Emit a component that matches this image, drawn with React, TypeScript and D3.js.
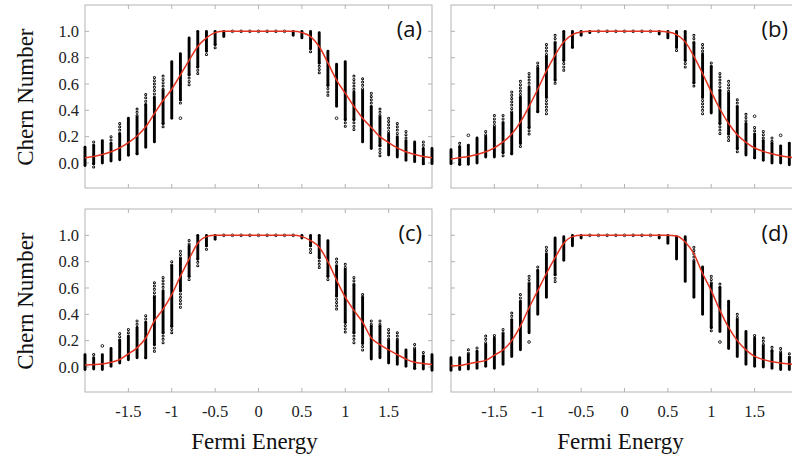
import React from 'react';
import * as d3 from 'd3';

// ---------- data ----------
const ENERGIES = [
  -2.0, -1.9, -1.8, -1.7, -1.6, -1.5, -1.4, -1.3, -1.2, -1.1, -1.0, -0.9, -0.8, -0.7,
  -0.6, -0.5, -0.4, -0.3, -0.2, -0.1, 0.0, 0.1, 0.2, 0.3, 0.4, 0.5, 0.6, 0.7, 0.8,
  0.9, 1.0, 1.1, 1.2, 1.3, 1.4, 1.5, 1.6, 1.7, 1.8, 1.9, 2.0,
];
const X_TICKS = [-1.5, -1, -0.5, 0, 0.5, 1, 1.5];
const X_TICK_LABELS = ['-1.5', '-1', '-0.5', '0', '0.5', '1', '1.5'];
const Y_TICKS = [0, 0.2, 0.4, 0.6, 0.8, 1.0];
const Y_TICK_LABELS = ['0.0', '0.2', '0.4', '0.6', '0.8', '1.0'];
const PANEL_LABELS = ['(a)', '(b)', '(c)', '(d)'];
const X_TITLE = 'Fermi Energy';
const Y_TITLE = 'Chern Number';

// averaged (red) curves
const FIT_A = [0.04, 0.05, 0.065, 0.085, 0.115, 0.155, 0.205, 0.275, 0.375, 0.475, 0.56, 0.67, 0.78, 0.885, 0.95, 0.99,
  1, 1, 1, 1, 1, 1, 1, 1, 1,
  0.99, 0.96, 0.885, 0.76, 0.63, 0.53, 0.43, 0.34, 0.27, 0.2, 0.155, 0.115, 0.085, 0.065, 0.05, 0.04];
const FIT_B = [0.03, 0.04, 0.05, 0.065, 0.085, 0.115, 0.16, 0.22, 0.31, 0.43, 0.56, 0.7, 0.82, 0.92, 0.975, 0.995,
  1, 1, 1, 1, 1, 1, 1, 1, 1,
  0.995, 0.975, 0.92, 0.81, 0.68, 0.54, 0.41, 0.3, 0.215, 0.157, 0.114, 0.088, 0.07, 0.055, 0.045, 0.035];
const FIT_C = [0.015, 0.018, 0.023, 0.036, 0.057, 0.1, 0.145, 0.22, 0.35, 0.44, 0.55, 0.69, 0.82, 0.94, 0.99, 1.0,
  1, 1, 1, 1, 1, 1, 1, 1, 1,
  0.99, 0.96, 0.91, 0.8, 0.66, 0.53, 0.43, 0.34, 0.22, 0.17, 0.13, 0.094, 0.06, 0.036, 0.026, 0.018];
const FIT_D = [0.01, 0.012, 0.025, 0.036, 0.05, 0.09, 0.13, 0.2, 0.31, 0.45, 0.58, 0.71, 0.83, 0.94, 0.99, 1.0,
  1, 1, 1, 1, 1, 1, 1, 1, 1,
  1.0, 0.995, 0.95, 0.86, 0.71, 0.58, 0.43, 0.3, 0.2, 0.13, 0.08, 0.056, 0.04, 0.03, 0.023, 0.018];

// samples per energy: [min, dense low, dense high, max]
const COLS_A = [
  [-0.02, -0.02, 0.12, 0.12], [-0.04, -0.005, 0.135, 0.16], [0, 0, 0.17, 0.17], [0.015, 0.015, 0.15, 0.2],
  [0.025, 0.025, 0.22, 0.3], [0.045, 0.06, 0.34, 0.34], [0.045, 0.07, 0.35, 0.41], [0.12, 0.12, 0.44, 0.52],
  [0.16, 0.16, 0.5, 0.65], [0.25, 0.3, 0.55, 0.66], [0.34, 0.34, 0.77, 0.77], [0.43, 0.48, 0.83, 0.83],
  [0.58, 0.67, 0.95, 0.95], [0.66, 0.73, 1, 1], [0.81, 0.85, 1, 1], [0.87, 0.9, 1, 1], [0.95, 0.96, 1, 1],
  [1, 1, 1, 1], [1, 1, 1, 1], [1, 1, 1, 1], [1, 1, 1, 1], [1, 1, 1, 1], [1, 1, 1, 1], [1, 1, 1, 1],
  [0.97, 0.97, 1, 1],
  [0.95, 0.95, 1, 1], [0.83, 0.87, 1, 1], [0.67, 0.76, 0.99, 0.99], [0.5, 0.59, 0.85, 0.85],
  [0.43, 0.43, 0.75, 0.75], [0.27, 0.33, 0.77, 0.77], [0.25, 0.33, 0.54, 0.66], [0.16, 0.16, 0.55, 0.64],
  [0.11, 0.11, 0.43, 0.53], [0.05, 0.13, 0.35, 0.41], [0.06, 0.06, 0.22, 0.34], [0.045, 0.045, 0.2, 0.3],
  [0.02, 0.02, 0.17, 0.24], [0.01, 0.01, 0.16, 0.16], [-0.03, -0.005, 0.11, 0.16], [-0.005, -0.005, 0.11, 0.11],
];
const COLS_B = [
  [-0.005, -0.005, 0.1, 0.1], [-0.03, -0.01, 0.12, 0.15], [-0.01, -0.01, 0.135, 0.135], [-0.01, 0, 0.19, 0.19],
  [0.045, 0.045, 0.2, 0.24], [0.045, 0.045, 0.27, 0.36], [0.05, 0.08, 0.3, 0.36], [0.05, 0.07, 0.38, 0.54],
  [0.12, 0.15, 0.5, 0.62], [0.21, 0.27, 0.58, 0.68], [0.37, 0.39, 0.72, 0.76], [0.37, 0.5, 0.81, 0.9],
  [0.6, 0.63, 0.91, 0.97], [0.7, 0.78, 1, 1], [0.86, 0.88, 1, 1], [0.97, 0.97, 1, 1], [0.99, 0.99, 1, 1],
  [1, 1, 1, 1], [1, 1, 1, 1], [1, 1, 1, 1], [1, 1, 1, 1], [1, 1, 1, 1], [1, 1, 1, 1], [1, 1, 1, 1],
  [0.98, 0.98, 1, 1],
  [0.95, 0.95, 1, 1], [0.85, 0.88, 1, 1], [0.71, 0.78, 1, 1], [0.58, 0.61, 0.91, 0.97],
  [0.37, 0.5, 0.83, 0.9], [0.37, 0.38, 0.73, 0.76], [0.21, 0.3, 0.55, 0.68], [0.15, 0.22, 0.53, 0.62],
  [0.06, 0.11, 0.43, 0.48], [0.06, 0.06, 0.3, 0.37], [0.025, 0.04, 0.22, 0.27], [0.013, 0.02, 0.17, 0.24],
  [0, 0, 0.15, 0.19], [0, 0, 0.13, 0.14], [-0.013, -0.013, 0.15, 0.15], [0, 0, 0.12, 0.12],
];
const COLS_C = [
  [-0.02, -0.02, 0.094, 0.094], [-0.015, -0.015, 0.07, 0.094], [-0.025, -0.02, 0.094, 0.094], [0.005, 0.005, 0.14, 0.14],
  [0.03, 0.03, 0.2, 0.255], [0.055, 0.055, 0.235, 0.285], [0.07, 0.07, 0.3, 0.35], [0.055, 0.07, 0.34, 0.39],
  [0.11, 0.17, 0.53, 0.64], [0.16, 0.26, 0.58, 0.68], [0.25, 0.31, 0.77, 0.8], [0.43, 0.58, 0.82, 0.88],
  [0.64, 0.69, 0.92, 0.96], [0.76, 0.82, 1, 1], [0.88, 0.92, 1, 1], [0.97, 0.97, 1, 1],
  [1, 1, 1, 1], [1, 1, 1, 1], [1, 1, 1, 1], [1, 1, 1, 1], [1, 1, 1, 1], [1, 1, 1, 1], [1, 1, 1, 1], [1, 1, 1, 1], [1, 1, 1, 1],
  [0.98, 0.98, 1, 1], [0.86, 0.92, 1, 1], [0.74, 0.83, 1, 1], [0.64, 0.69, 0.96, 0.96],
  [0.43, 0.54, 0.77, 0.82], [0.25, 0.34, 0.74, 0.78], [0.16, 0.26, 0.62, 0.68], [0.11, 0.18, 0.53, 0.55],
  [0.06, 0.06, 0.31, 0.35], [0.07, 0.07, 0.31, 0.35], [0.03, 0.03, 0.2, 0.285], [0.02, 0.02, 0.2, 0.26],
  [0.005, 0.005, 0.13, 0.13], [-0.025, -0.01, 0.13, 0.17], [-0.015, -0.015, 0.08, 0.11], [-0.025, -0.025, 0.094, 0.094],
];
const COLS_D = [
  [-0.025, -0.025, 0.07, 0.07], [-0.02, -0.02, 0.07, 0.07], [-0.015, -0.015, 0.094, 0.13], [-0.01, -0.01, 0.12, 0.145],
  [0.005, 0.005, 0.17, 0.235], [-0.01, -0.01, 0.22, 0.24], [0.02, 0.02, 0.25, 0.285], [0.08, 0.08, 0.36, 0.41],
  [0.13, 0.13, 0.5, 0.55], [0.26, 0.26, 0.63, 0.69], [0.4, 0.4, 0.73, 0.76], [0.53, 0.53, 0.86, 0.91],
  [0.64, 0.7, 0.98, 0.98], [0.81, 0.81, 0.99, 0.99], [0.92, 0.92, 1, 1], [0.98, 0.98, 1, 1],
  [1, 1, 1, 1], [1, 1, 1, 1], [1, 1, 1, 1], [1, 1, 1, 1], [1, 1, 1, 1], [1, 1, 1, 1], [1, 1, 1, 1], [1, 1, 1, 1],
  [0.98, 0.98, 1, 1],
  [0.94, 0.94, 1, 1], [0.82, 0.82, 0.99, 0.99], [0.65, 0.65, 0.99, 0.99], [0.53, 0.53, 0.8, 0.91],
  [0.4, 0.4, 0.76, 0.76], [0.26, 0.3, 0.63, 0.69], [0.27, 0.27, 0.6, 0.63], [0.14, 0.14, 0.5, 0.5],
  [0.08, 0.08, 0.36, 0.4], [0.02, 0.02, 0.27, 0.27], [0.005, 0.005, 0.22, 0.24], [0, 0, 0.16, 0.22],
  [-0.01, -0.01, 0.12, 0.15], [-0.02, -0.02, 0.1, 0.14], [-0.02, -0.02, 0.07, 0.1], [-0.025, -0.025, 0.07, 0.07],
];
// isolated samples: [energy, chern]
const OUT_A = [[-0.9, 0.34], [0.9, 0.34]];
const OUT_B = [[-1.8, 0.21], [1.5, 0.355], [1.8, 0.21]];
const OUT_C = [[-1.8, 0.16]];
const OUT_D = [[-1.1, 0.19], [1.1, 0.19]];

// ---------- layout ----------
const W = 792;
const H = 460;
const PW = 347;
const PH = 183;
const COL_X = [85, 451];
const ROW_Y = [5, 209];
const SERIF = '"Liberation Serif", "DejaVu Serif", serif';
const SANS = '"Open Sans", "DejaVu Sans", sans-serif';
const FRAME = '#b3b3b3';
const RED = '#e3321f';

type Col = number[];

function Panel({ left, top, fit, cols, outs, label, showY, showX }: any) {
  const x = d3.scaleLinear().domain([-2, 2]).range([left, left + PW]);
  const y = d3.scaleLinear().domain([-0.19, 1.2]).range([top + PH, top]);
  const line = d3
    .line<number>()
    .x((_, i) => x(ENERGIES[i]))
    .y((d) => y(d))
    .curve(d3.curveMonotoneX);
  const tick = 4;
  const sparse = (cx: number, a: number, b: number, key: string) => {
    const ya = y(a);
    const yb = y(b);
    if (Math.abs(yb - ya) < 1.5) return null;
    return (
      <g key={key}>
        <line x1={cx} x2={cx} y1={ya} y2={yb} stroke="#000" strokeWidth={3} strokeLinecap="round" strokeDasharray="0 3.3" />
        <line x1={cx} x2={cx} y1={ya} y2={yb} stroke="#fff" strokeWidth={1.2} strokeLinecap="round" strokeDasharray="0 3.3" />
      </g>
    );
  };
  return (
    <g>
      {/* frame */}
      <rect x={left} y={top} width={PW} height={PH} fill="none" stroke={FRAME} strokeWidth={1} />
      {X_TICKS.map((t) => (
        <g key={'xt' + t}>
          <line x1={x(t)} x2={x(t)} y1={top} y2={top + tick} stroke={FRAME} />
          <line x1={x(t)} x2={x(t)} y1={top + PH} y2={top + PH - tick} stroke={FRAME} />
        </g>
      ))}
      {Y_TICKS.map((t) => (
        <g key={'yt' + t}>
          <line x1={left} x2={left + tick} y1={y(t)} y2={y(t)} stroke={FRAME} />
          <line x1={left + PW} x2={left + PW - tick} y1={y(t)} y2={y(t)} stroke={FRAME} />
        </g>
      ))}
      {/* samples */}
      {cols.map((c: Col, i: number) => {
        const cx = x(ENERGIES[i]);
        const [lo, dLo, dHi, hi] = c;
        const parts = [] as any[];
        parts.push(sparse(cx, hi, dHi, 'h' + i));
        parts.push(sparse(cx, dLo, lo, 'l' + i));
        if (y(dLo) - y(dHi) < 1) {
          parts.push(<circle key={'s' + i} cx={cx} cy={y(dHi)} r={1.35} fill="#fff" stroke="#000" strokeWidth={0.85} />);
        } else {
          parts.push(
            <line key={'d' + i} x1={cx} x2={cx} y1={y(dHi)} y2={y(dLo)} stroke="#000" strokeWidth={2.9} strokeLinecap="round" />
          );
        }
        return <g key={'c' + i}>{parts}</g>;
      })}
      {outs.map((o: number[], i: number) => (
        <circle key={'o' + i} cx={x(o[0])} cy={y(o[1])} r={1.35} fill="#fff" stroke="#000" strokeWidth={0.85} />
      ))}
      {/* averaged curve */}
      <path d={line(fit) || ''} fill="none" stroke={RED} strokeWidth={1.5} />
      {/* panel label */}
      <text x={left + PW - 10} y={top + 32} textAnchor="end" fontFamily={SANS} fontSize={22} fill="#111">
        {label}
      </text>
      {showY && (
        <g>
          {Y_TICKS.map((t, i) => (
            <text key={'yl' + t} x={left - 6} y={y(t)} dy="0.35em" textAnchor="end" fontFamily={SERIF} fontSize={16.5} fill="#222">
              {Y_TICK_LABELS[i]}
            </text>
          ))}
          <text
            transform={`translate(${left - 52},${y(0.5)}) rotate(-90)`}
            textAnchor="middle"
            fontFamily={SERIF}
            fontSize={23}
            fill="#111"
          >
            {Y_TITLE}
          </text>
        </g>
      )}
      {showX && (
        <g>
          {X_TICKS.map((t, i) => (
            <text key={'xl' + t} x={x(t)} y={top + PH + 19} dy="0.35em" textAnchor="middle" fontFamily={SERIF} fontSize={16.5} fill="#222">
              {X_TICK_LABELS[i]}
            </text>
          ))}
          <text x={x(0) - 4} y={449} textAnchor="middle" fontFamily={SERIF} fontSize={23} fill="#111">
            {X_TITLE}
          </text>
        </g>
      )}
    </g>
  );
}

export default function App() {
  const panels = [
    { fit: FIT_A, cols: COLS_A, outs: OUT_A, c: 0, r: 0 },
    { fit: FIT_B, cols: COLS_B, outs: OUT_B, c: 1, r: 0 },
    { fit: FIT_C, cols: COLS_C, outs: OUT_C, c: 0, r: 1 },
    { fit: FIT_D, cols: COLS_D, outs: OUT_D, c: 1, r: 1 },
  ];
  return (
    <svg
      width={W}
      height={H}
      viewBox={`0 0 ${W} ${H}`}
      style={{ position: 'absolute', left: 0, top: 0, background: '#fff' }}
    >
      <rect x={0} y={0} width={W} height={H} fill="#fff" />
      {panels.map((p, i) => (
        <Panel
          key={i}
          left={COL_X[p.c]}
          top={ROW_Y[p.r]}
          fit={p.fit}
          cols={p.cols}
          outs={p.outs}
          label={PANEL_LABELS[i]}
          showY={p.c === 0}
          showX={p.r === 1}
        />
      ))}
    </svg>
  );
}
